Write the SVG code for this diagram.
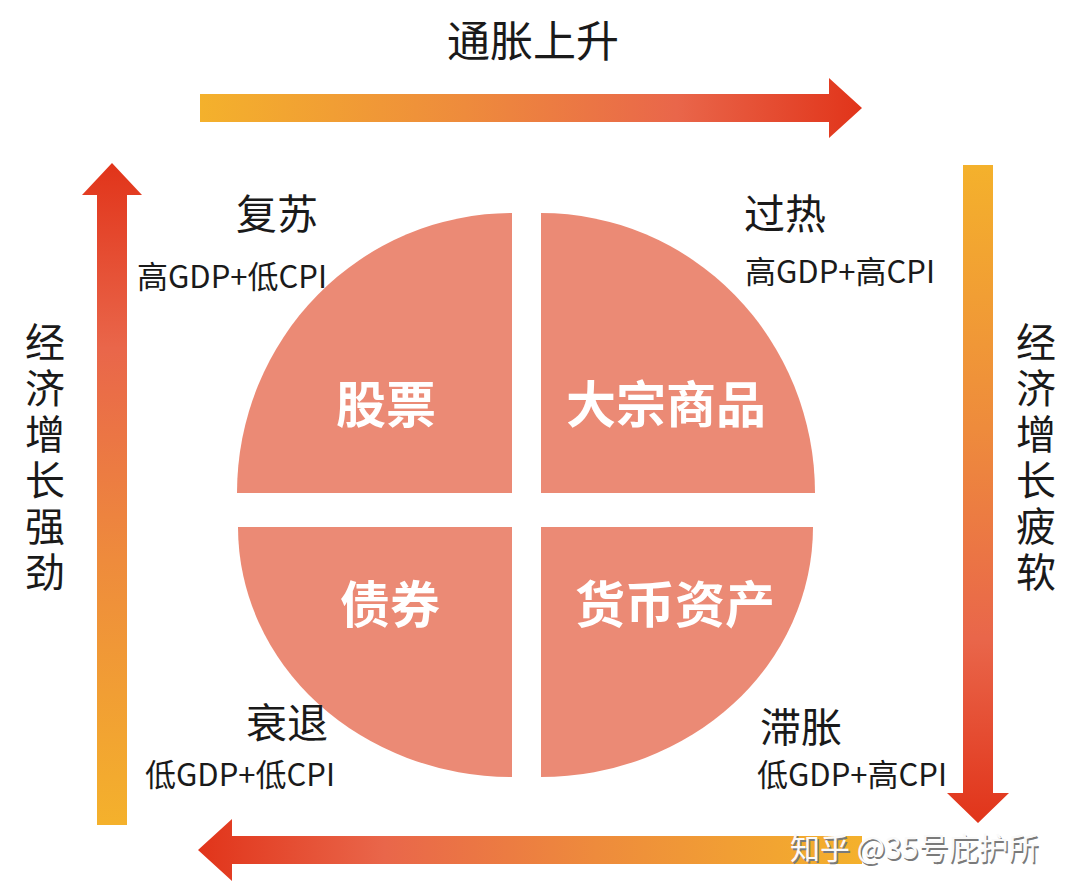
<svg xmlns="http://www.w3.org/2000/svg" width="1080" height="892" viewBox="0 0 1080 892">
<defs>
<linearGradient id="gTop" gradientUnits="userSpaceOnUse" x1="200" y1="0" x2="862" y2="0">
<stop offset="0" stop-color="#F4B12C"/><stop offset="0.4" stop-color="#EE8B3C"/><stop offset="0.72" stop-color="#E9664A"/><stop offset="1" stop-color="#E1341A"/>
</linearGradient>
<linearGradient id="gLeft" gradientUnits="userSpaceOnUse" x1="0" y1="825" x2="0" y2="163">
<stop offset="0" stop-color="#F4B12C"/><stop offset="0.4" stop-color="#EE8B3C"/><stop offset="0.72" stop-color="#E9664A"/><stop offset="1" stop-color="#E1341A"/>
</linearGradient>
<linearGradient id="gRight" gradientUnits="userSpaceOnUse" x1="0" y1="165" x2="0" y2="823">
<stop offset="0" stop-color="#F4B12C"/><stop offset="0.4" stop-color="#EE8B3C"/><stop offset="0.72" stop-color="#E9664A"/><stop offset="1" stop-color="#E1341A"/>
</linearGradient>
<linearGradient id="gBottom" gradientUnits="userSpaceOnUse" x1="862" y1="0" x2="198" y2="0">
<stop offset="0" stop-color="#F4B12C"/><stop offset="0.4" stop-color="#EE8B3C"/><stop offset="0.72" stop-color="#E9664A"/><stop offset="1" stop-color="#E1341A"/>
</linearGradient>
</defs>
<style>
.t{font-family:"Noto Sans CJK SC","Noto Sans",sans-serif;fill:#1a1a1a;text-anchor:middle}
.h{font-size:41px}
.s{font-size:31px}
.v{font-family:"Noto Sans CJK SC","Noto Sans",sans-serif;fill:#1a1a1a;font-size:40px;writing-mode:vertical-rl;letter-spacing:6px}
.q{font-family:"Noto Sans CJK SC","Noto Sans",sans-serif;fill:#fff;font-weight:bold;font-size:50px;text-anchor:middle}
.quad{fill:#EB8A75}
.wm{font-family:"Noto Sans CJK SC","Noto Sans",sans-serif;font-size:30px}
</style>
<rect width="1080" height="892" fill="#fff"/>
<g id="connectors">
<path d="M200,94 H829 V78 L862,108 L829,138 V122 H200 Z" fill="url(#gTop)"/>
<path d="M97,825 V195 H82 L112,163 L142,195 H127 V825 Z" fill="url(#gLeft)"/>
<path d="M963,165 H993 V793 H1009 L978,823 L947,793 H963 Z" fill="url(#gRight)"/>
<path d="M862,836 H232 V819 L198,850 L232,881 V864 H862 Z" fill="url(#gBottom)"/>
</g>
<g id="title-top"><text class="t" style="font-size:43px" x="533" y="57">通胀上升</text></g>
<g id="label-left"><text class="v" x="45" y="322">经济增长强劲</text></g>
<g id="label-right"><text class="v" x="1036" y="322">经济增长疲软</text></g>
<g id="q-stock">
<path class="quad" d="M512,493 H237 A275,280 0 0 1 512,213 Z"/>
<text class="q" x="386" y="423">股票</text>
</g>
<g id="q-commodity">
<path class="quad" d="M541,493 V213 A274,280 0 0 1 815,493 Z"/>
<text class="q" x="666" y="423">大宗商品</text>
</g>
<g id="q-bond">
<path class="quad" d="M512,527 V777 A274,250 0 0 1 238,527 Z"/>
<text class="q" x="390" y="623">债券</text>
</g>
<g id="q-cash">
<path class="quad" d="M541,527 H813 A272,250 0 0 1 541,777 Z"/>
<text class="q" x="675" y="623">货币资产</text>
</g>
<g id="phase-recovery"><text class="t h" x="277" y="229">复苏</text><text class="t s" x="232" y="288">高GDP+低CPI</text></g>
<g id="phase-overheat"><text class="t h" x="785" y="229">过热</text><text class="t s" x="840" y="283">高GDP+高CPI</text></g>
<g id="phase-recession"><text class="t h" x="287" y="738">衰退</text><text class="t s" x="240" y="786">低GDP+低CPI</text></g>
<g id="phase-stagflation"><text class="t h" x="801" y="742">滞胀</text><text class="t s" x="852" y="786">低GDP+高CPI</text></g>
<g id="watermark"><text class="wm" x="790" y="859" fill="#7a7a7a" transform="translate(1.5,1.5)">知乎 @35号庇护所</text><text class="wm" x="790" y="859" fill="#fafafa">知乎 @35号庇护所</text></g>
</svg>
